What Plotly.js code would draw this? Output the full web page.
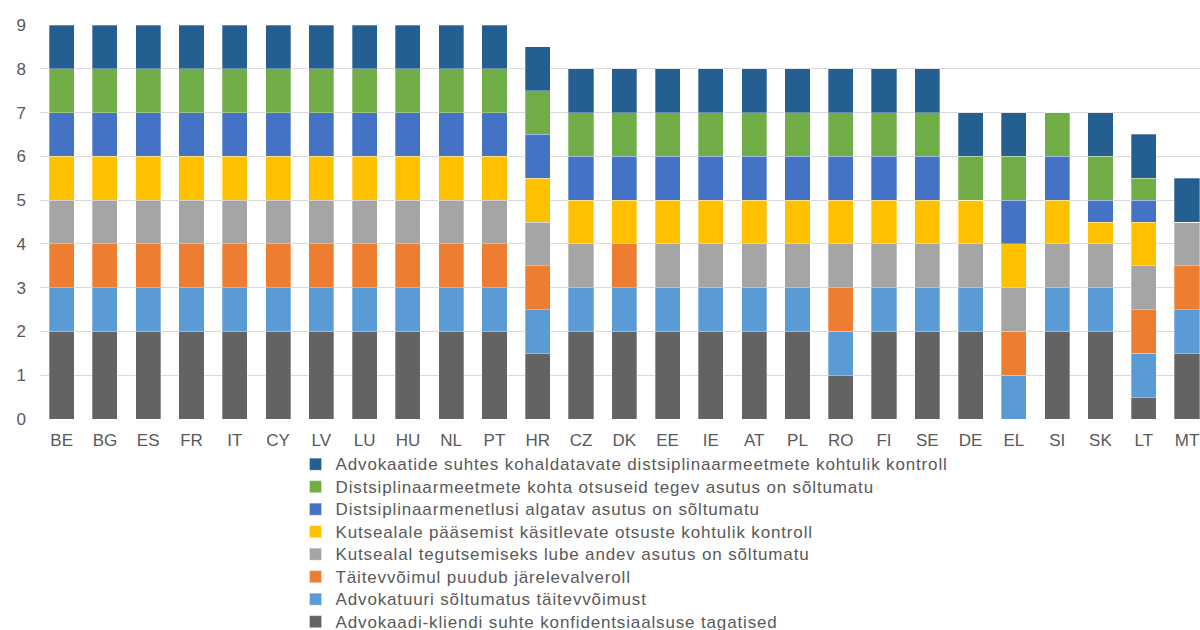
<!DOCTYPE html>
<html><head><meta charset="utf-8">
<script src="https://cdn.plot.ly/plotly-3.0.1.min.js"></script>
<style>
body{margin:0;background:#fff}
#chart{width:1200px;height:630px}
#chart .legendtext{font-size:17px !important; letter-spacing:0.85px;}
#chart .legend .scrollbox{clip-path:none !important;}
#chart .legend .bg{fill:none !important; stroke:none !important;}
</style>
</head><body><div id="chart"></div>
<script>
const cats = ["BE","BG","ES","FR","IT","CY","LV","LU","HU","NL","PT","HR","CZ","DK","EE","IE","AT","PL","RO","FI","SE","DE","EL","SI","SK","LT","MT"];

const seriesNames = [
  "Advokaadi-kliendi suhte konfidentsiaalsuse tagatised",
  "Advokatuuri sõltumatus täitevvõimust",
  "Täitevvõimul puudub järelevalveroll",
  "Kutsealal tegutsemiseks lube andev asutus on sõltumatu",
  "Kutsealale pääsemist käsitlevate otsuste kohtulik kontroll",
  "Distsiplinaarmenetlusi algatav asutus on sõltumatu",
  "Distsiplinaarmeetmete kohta otsuseid tegev asutus on sõltumatu",
  "Advokaatide suhtes kohaldatavate distsiplinaarmeetmete kohtulik kontroll"
];
const seriesColors = ["#636363","#5B9BD5","#ED7D31","#A5A5A5","#FFC000","#4472C4","#70AD47","#255E91"];

//                       BE BG ES FR IT CY LV LU HU NL PT  HR CZ DK EE IE AT PL RO FI SE DE EL SI  SK  LT  MT
const confidentiality = [2,2,2,2,2,2,2,2,2,2,2,1.5,2,2,2,2,2,2,1,2,2,2,0,2,2,0.5,1.5];
const barIndependence = [1,1,1,1,1,1,1,1,1,1,1,1,  1,1,1,1,1,1,1,1,1,1,1,1,1,1,  1];
const noOversight     = [1,1,1,1,1,1,1,1,1,1,1,1,  0,1,0,0,0,0,1,0,0,0,1,0,0,1,  1];
const licensingBody   = [1,1,1,1,1,1,1,1,1,1,1,1,  1,0,1,1,1,1,1,1,1,1,1,1,1,1,  1];
const accessReview    = [1,1,1,1,1,1,1,1,1,1,1,1,  1,1,1,1,1,1,1,1,1,1,1,1,0.5,1,0];
const discInitiator   = [1,1,1,1,1,1,1,1,1,1,1,1,  1,1,1,1,1,1,1,1,1,0,1,1,0.5,0.5,0];
const discDecider     = [1,1,1,1,1,1,1,1,1,1,1,1,  1,1,1,1,1,1,1,1,1,1,1,1,1,0.5,0];
const discReview      = [1,1,1,1,1,1,1,1,1,1,1,1,  1,1,1,1,1,1,1,1,1,1,1,0,1,1,  1];

const seriesValues = [confidentiality,barIndependence,noOversight,licensingBody,accessReview,discInitiator,discDecider,discReview];

const traces = seriesValues.map((v,i)=>({
  type:"bar", name:seriesNames[i], x:cats, y:v,
  marker:{color:seriesColors[i], line:{color:"rgba(255,255,255,0.5)", width:0.6}},
  hoverinfo:"x+y+name"
}));

const font = "Liberation Sans, Arial, sans-serif";
const layout = {
  width:1200, height:630,
  margin:{l:40, r:0, t:25, b:211},
  barmode:"stack", bargap:0.42,
  paper_bgcolor:"#fff", plot_bgcolor:"#fff",
  showlegend:true,
  legend:{orientation:"v", x:0.2203, xanchor:"left", xref:"paper",
    y:0.289, yanchor:"top", yref:"container",
    traceorder:"reversed", font:{family:font, size:15, color:"#595959"},
    tracegroupgap:0, bgcolor:"rgba(0,0,0,0)"},
  xaxis:{type:"category", range:[-0.5, 26.3], showgrid:false, zeroline:false,
    showline:false, ticks:"", tickfont:{family:font, size:17, color:"#595959"},
    ticklabelstandoff:9, fixedrange:true},
  yaxis:{range:[0,9], dtick:1, showgrid:true, gridcolor:"#D9D9D9", gridwidth:1,
    zeroline:false, showline:false, ticks:"",
    tickfont:{family:font, size:17, color:"#595959"}, ticklabelstandoff:13, fixedrange:true}
};
Plotly.newPlot("chart", traces, layout, {displayModeBar:false, staticPlot:true});
</script></body></html>
